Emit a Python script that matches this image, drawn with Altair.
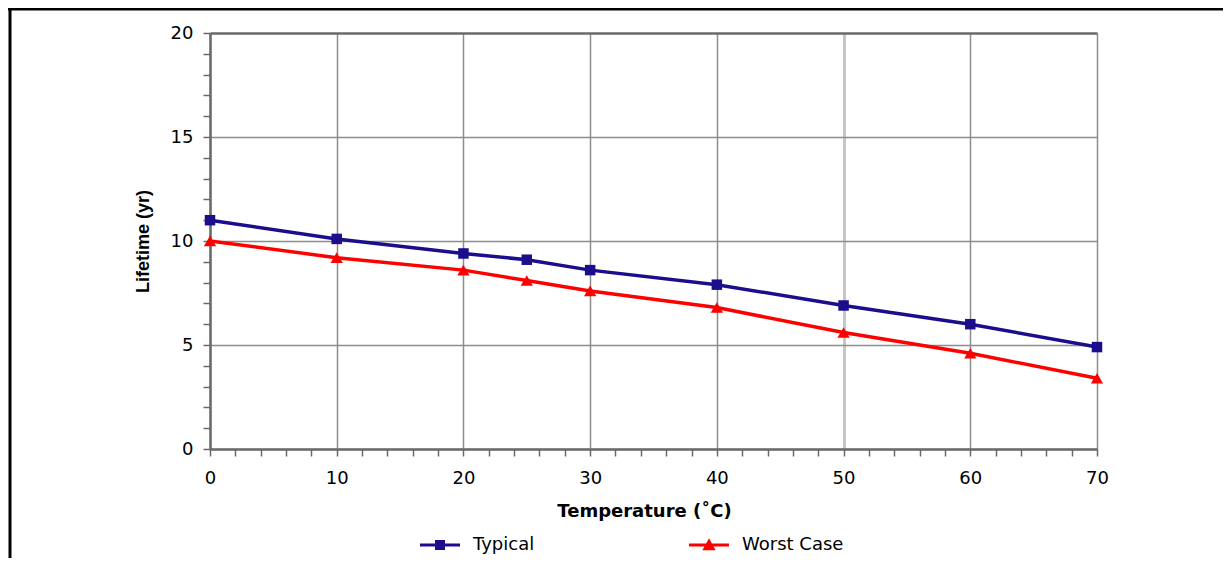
import altair as alt
import pandas as pd

# ---- data ----
temps = [0, 10, 20, 25, 30, 40, 50, 60, 70]
typical = [11.0, 10.1, 9.4, 9.1, 8.6, 7.9, 6.9, 6.0, 4.9]
worst = [10.0, 9.2, 8.6, 8.1, 7.6, 6.8, 5.6, 4.6, 3.4]
series_names = ["Typical", "Worst Case"]
series_colors = ["#1b0d8c", "#ff0000"]
x_tick_values = list(range(0, 71, 2))
y_tick_values = list(range(0, 21))

df = pd.DataFrame({
    "temp": temps + temps,
    "life": typical + worst,
    "series": [series_names[0]] * len(temps) + [series_names[1]] * len(temps),
})

FONT = "DejaVu Sans"
VFONT = "Liberation Sans"
GRID = "#8c8c8c"
AXIS = "#6a6a6a"

x_axis = alt.Axis(
    values=x_tick_values,
    labelExpr="datum.value % 10 === 0 ? datum.label : ''",
    labelFlush=False,
    grid=True,
    gridOpacity={"condition": {"test": "datum.value % 10 === 0", "value": 1}, "value": 0},
    gridColor={"condition": {"test": "datum.value === 50", "value": "#c6c6c6"}, "value": GRID},
    gridWidth={"condition": {"test": "datum.value === 50", "value": 3}, "value": 1.5},
    tickSize=7, tickColor=AXIS, tickWidth=1.5,
    domainColor=AXIS, domainWidth=2.5,
    labelFont=FONT, labelFontSize=18, labelColor="black", labelPadding=13,
    title="Temperature (˚C)", titleFont=FONT, titleFontSize=18, titleFontWeight="bold",
    titleColor="black", titleX=434, titleY=62, titleAlign="center", titleBaseline="middle",
)
y_axis = alt.Axis(
    values=y_tick_values,
    labelExpr="datum.value % 5 === 0 ? datum.label : ''",
    labelFlush=False,
    grid=True,
    gridOpacity={"condition": {"test": "datum.value % 5 === 0", "value": 1}, "value": 0},
    gridColor={"condition": {"test": "datum.value === 20", "value": AXIS}, "value": GRID},
    gridWidth={"condition": {"test": "datum.value === 20", "value": 2.5}, "value": 1.5},
    tickSize=7, tickColor=AXIS, tickWidth=1.5,
    domainColor=AXIS, domainWidth=2.5,
    labelFont=FONT, labelFontSize=18, labelColor="black", labelPadding=10,
    title="Lifetime (yr)", titleFont=VFONT, titleFontSize=18, titleFontWeight="bold",
    titleColor="black", titleX=-67, titleY=208, titleAngle=270,
    titleAlign="center", titleBaseline="middle",
)

x_enc = alt.X("temp:Q", scale=alt.Scale(domain=[0, 70], nice=False), axis=x_axis)
y_enc = alt.Y("life:Q", scale=alt.Scale(domain=[0, 20], nice=False), axis=y_axis)

base = alt.Chart(df)

def series_layers(name, color, shape, size):
    sub = base.transform_filter(alt.datum.series == name)
    line = sub.mark_line(color=color, strokeWidth=3.5).encode(x=x_enc, y=y_enc)
    pts = sub.mark_point(shape=shape, filled=True, color=color, opacity=1, size=size).encode(x=x_enc, y=y_enc)
    return [line, pts]

layers = []
layers += series_layers(series_names[0], series_colors[0], "square", 110)
layers += series_layers(series_names[1], series_colors[1], "triangle-up", 150)

# legend: symbols combine a line segment with the marker
sym_square = "M-1,-0.08H1V0.08H-1Z M-0.25,-0.25H0.25V0.25H-0.25Z"
sym_triangle = "M-1,-0.08H1V0.08H-1Z M0,-0.34L0.33,0.26H-0.33Z"
legend = alt.Legend(
    title=None, orient="none", legendX=210, legendY=492, direction="horizontal",
    symbolSize=1600, symbolStrokeWidth=0, labelFont=FONT, labelFontSize=18,
    labelColor="black", labelOffset=13, columnPadding=154, padding=0,
)
legend_layer = base.transform_filter("false").mark_point(filled=True, opacity=1).encode(
    x=x_enc, y=y_enc,
    color=alt.Color("series:N", scale=alt.Scale(domain=series_names, range=series_colors), legend=legend),
    shape=alt.Shape("series:N", scale=alt.Scale(domain=series_names, range=[sym_square, sym_triangle]), legend=legend),
)
layers.append(legend_layer)

# outer frame of the figure (top and left border)
frame_df = pd.DataFrame({"k": [0]})
frame_top = alt.Chart(frame_df).mark_rule(color="black", strokeWidth=3).encode(
    x=alt.value(-202), x2=alt.value(1013), y=alt.value(-24))
frame_left = alt.Chart(frame_df).mark_rule(color="black", strokeWidth=3).encode(
    x=alt.value(-200), y=alt.value(-25), y2=alt.value(530))
layers += [frame_top, frame_left]

chart = alt.layer(*layers).properties(
    width=887, height=416,
    autosize=alt.AutoSizeParams(type="none"),
    padding={"left": 202, "top": 25, "right": 126, "bottom": 109},
    background="white",
).configure_view(stroke=None)

chart.save("out.html", embed_options={"renderer": "svg", "actions": False})
